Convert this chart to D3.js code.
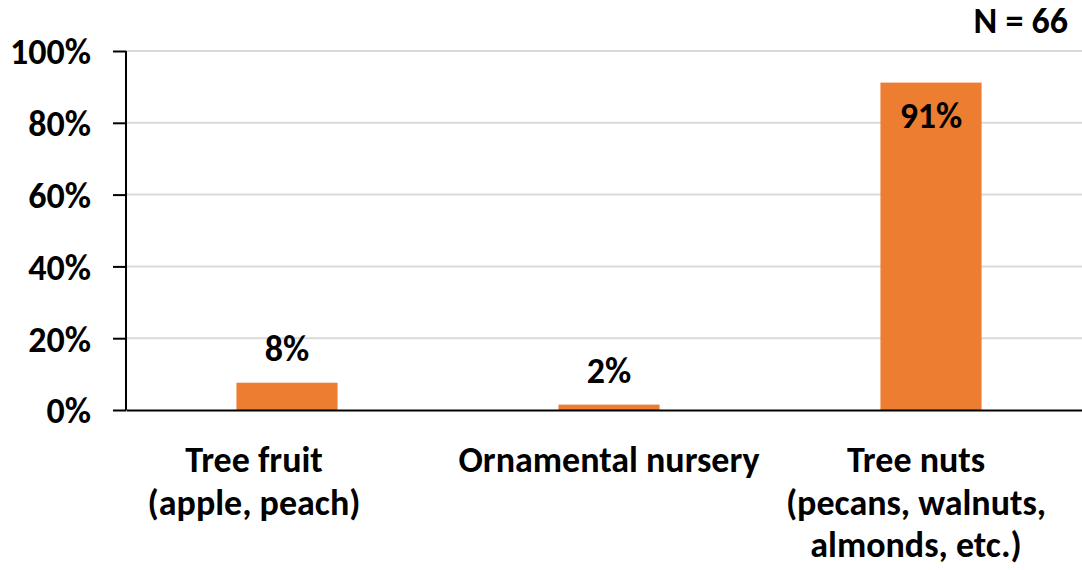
<!DOCTYPE html>
<html>
<head>
<meta charset="utf-8">
<script src="https://cdn.jsdelivr.net/npm/d3@7"></script>
<style>
  body { margin: 0; background: #fff; }
  svg text { font-family: Carlito, "Liberation Sans", Arial, sans-serif; font-weight: bold; fill: #000; }
</style>
</head>
<body>
<div id="chart"></div>
<script>
const categories = ["Tree fruit", "Ornamental nursery", "Tree nuts"];
const categoryLines = [
  ["Tree fruit", "(apple, peach)"],
  ["Ornamental nursery"],
  ["Tree nuts", "(pecans, walnuts,", "almonds, etc.)"]
];
const values = [7.6, 1.5, 91.2];
const yTicks = [0, 20, 40, 60, 80, 100];
const sampleNote = "N = 66";

const svgWidth = 1082;
const svgHeight = 570;
const margin = { top: 51, right: -10, bottom: 160, left: 126 };
const width = svgWidth - margin.left - margin.right;
const height = svgHeight - margin.top - margin.bottom;
const fontSize = "36px";
// the wrapped axis labels sit a little left of their bars in the original
const labelShift = [-33, 0, -15];

const svg = d3.select("#chart")
    .append("svg")
    .attr("width", svgWidth)
    .attr("height", svgHeight);

const g = svg.append("g")
    .attr("transform", "translate(" + margin.left + "," + margin.top + ")");

const xScale = d3.scaleBand()
    .domain(categories)
    .range([0, width])
    .paddingInner(0.686)
    .paddingOuter(0.343);

const yScale = d3.scaleLinear()
    .domain([0, 100])
    .range([height, 0]);

// gridlines
g.selectAll(".grid")
    .data(yTicks.filter(d => d > 0))
    .enter()
    .append("line")
    .attr("class", "grid")
    .attr("x1", 0)
    .attr("x2", width)
    .attr("y1", d => yScale(d))
    .attr("y2", d => yScale(d))
    .attr("stroke", "#d9d9d9")
    .attr("stroke-width", 2);

g.selectAll(".bar")
    .data(values)
    .enter()
    .append("rect")
    .attr("class", "bar")
    .attr("x", (d, i) => xScale(categories[i]))
    .attr("y", d => yScale(d))
    .attr("width", xScale.bandwidth())
    .attr("height", d => height - yScale(d))
    .attr("fill", "#ED7D31");

const fmt = d3.format(".0f");
g.selectAll(".value-label")
    .data(values)
    .enter()
    .append("text")
    .attr("class", "value-label")
    .attr("x", (d, i) => xScale(categories[i]) + xScale.bandwidth() / 2)
    .attr("y", d => d > 50 ? yScale(d) + 45 : yScale(d) - 22)
    .attr("text-anchor", "middle")
    .style("font-size", fontSize)
    .text(d => fmt(d) + "%");

// y axis
const yAxis = g.append("g")
    .attr("class", "axis-y")
    .call(d3.axisLeft(yScale).tickValues(yTicks).tickSize(13).tickPadding(22).tickFormat(d => d + "%"));
yAxis.select(".domain").attr("stroke", "#000").attr("stroke-width", 2).attr("d", "M0," + yScale(100) + "V" + height);
yAxis.selectAll(".tick line").attr("stroke", "#000").attr("stroke-width", 2);
yAxis.selectAll(".tick text")
    .style("font-size", fontSize)
    .attr("dy", "0.36em");
yAxis.attr("font-family", null).attr("font-size", null);

// x axis
const xAxis = g.append("g")
    .attr("class", "axis-x")
    .attr("transform", "translate(0," + height + ")")
    .call(d3.axisBottom(xScale).tickSize(0).tickFormat(""));
xAxis.select(".domain").attr("stroke", "#000").attr("stroke-width", 2);

const catText = g.selectAll(".cat-label")
    .data(categoryLines)
    .enter()
    .append("text")
    .attr("class", "cat-label")
    .attr("text-anchor", "middle")
    .attr("transform", (d, i) => "translate(" + (xScale(categories[i]) + xScale.bandwidth() / 2 + labelShift[i]) + "," + (height + 62) + ")")
    .style("font-size", fontSize);

catText.selectAll("tspan")
    .data(d => d)
    .enter()
    .append("tspan")
    .attr("x", 0)
    .attr("dy", (d, i) => i === 0 ? 0 : 42.5)
    .text(d => d);

svg.append("text")
    .attr("x", 1068)
    .attr("y", 33)
    .attr("text-anchor", "end")
    .style("font-size", fontSize)
    .text(sampleNote);
</script>
</body>
</html>
